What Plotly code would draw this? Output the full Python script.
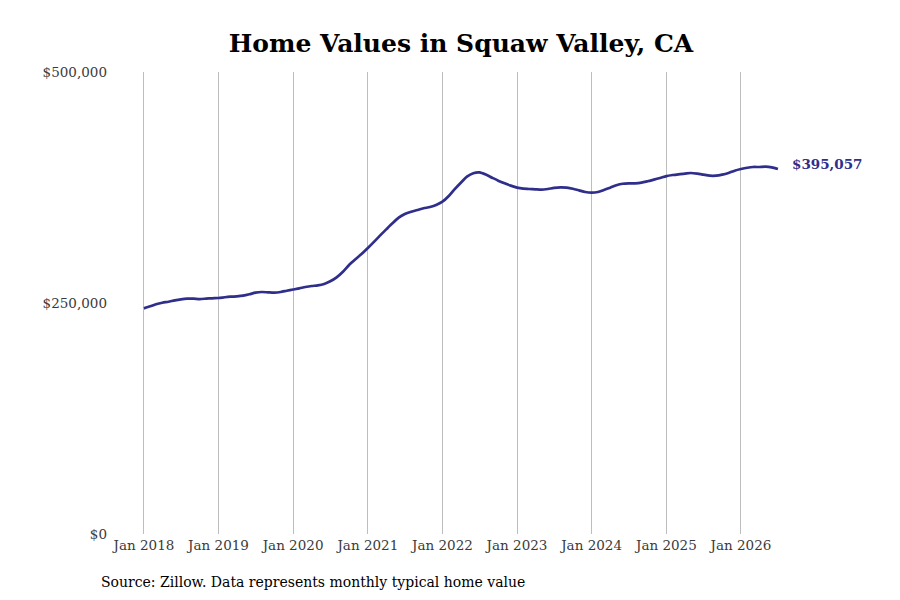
import pandas as pd
import plotly.graph_objects as go

# monthly typical home value, Jan 2018 - Jul 2026
months = pd.date_range("2018-01-01", "2026-07-01", freq="MS")

values_2018 = [244200, 246400, 248600, 250300, 251400, 252900,
               254000, 254700, 254700, 254300, 254700, 255100]
values_2019 = [255400, 256200, 256800, 257200, 257900, 259400,
               261200, 261900, 261500, 261200, 261900, 263300]
values_2020 = [264600, 265900, 267300, 268400, 269100, 270600,
               273500, 277800, 283900, 291100, 297300, 303000]
values_2021 = [309500, 316400, 322900, 329700, 336200, 342400,
               346300, 348800, 350700, 352500, 353900, 356000]
values_2022 = [359600, 365800, 373000, 380200, 386700, 390400,
               391300, 389000, 385600, 382400, 379500, 377000]
values_2023 = [374800, 373700, 373400, 373000, 372600, 373400,
               374500, 375200, 374800, 373700, 371900, 370100]
values_2024 = [369400, 370100, 372300, 374800, 377400, 379100,
               379500, 379500, 380200, 381700, 383500, 385300]
values_2025 = [387300, 388500, 389300, 390000, 390700, 390000,
               388900, 387800, 387800, 388900, 390700, 393200]
values_2026 = [395000, 396400, 397200, 397200, 397600, 396800, 395057]

values = (values_2018 + values_2019 + values_2020 + values_2021 + values_2022
          + values_2023 + values_2024 + values_2025 + values_2026)

tick_dates = pd.date_range("2018-01-01", "2026-01-01", freq="YS")
tick_labels = [d.strftime("Jan %Y") for d in tick_dates]

y_ticks = [0, 250000, 500000]
y_labels = ["$0", "$250,000", "$500,000"]

line_color = "#2f2e8b"
font_name = "DejaVu Serif"

# the page has an 8px body margin, so the figure is drawn 8px smaller
W, H = 892, 592
L, R, T, B = 102, 110, 64, 66
plot_w = W - L - R
plot_h = H - T - B

fig = go.Figure()
fig.add_trace(go.Scatter(
    x=months, y=values,
    mode="lines",
    line=dict(color=line_color, width=2.7, shape="spline", smoothing=0.7),
    hoverinfo="x+y",
))

fig.add_annotation(
    x=months[-1], y=values[-1],
    text="<b>$%s</b>" % format(values[-1], ","),
    showarrow=False, xanchor="left", xshift=12, yshift=5,
    font=dict(family=font_name, size=13.5, color=line_color),
)

fig.add_annotation(
    x=(91 - L) / plot_w, y=-48 / plot_h, xref="paper", yref="paper",
    text="Source: Zillow. Data represents monthly typical home value",
    showarrow=False, xanchor="left", yanchor="middle",
    font=dict(family=font_name, size=14, color="#000000"),
)

fig.update_layout(
    width=W, height=H,
    margin=dict(l=L, r=R, t=T, b=B),
    paper_bgcolor="white", plot_bgcolor="white",
    showlegend=False,
    font=dict(family=font_name, size=13.5, color="#3a3a3a"),
    title=dict(
        text="<b>Home Values in Squaw Valley, CA</b>",
        x=453 / W, xanchor="center", y=1 - 35 / H, yanchor="middle",
        font=dict(family=font_name, size=25, color="#000000"),
    ),
    xaxis=dict(
        range=["2017-07-19", "2026-08-29"],
        tickvals=tick_dates, ticktext=tick_labels,
        showgrid=True, gridcolor="#bdbdbd", gridwidth=1,
        zeroline=False, showline=False, ticks="",
        ticklabelstandoff=1,
        tickfont=dict(family=font_name, size=13.5, color="#3a3a3a"),
    ),
    yaxis=dict(
        range=[0, 500000],
        tickvals=y_ticks, ticktext=y_labels,
        showgrid=False, zeroline=False, showline=False, ticks="",
        ticklabelstandoff=2,
        tickfont=dict(family=font_name, size=13.5, color="#3a3a3a"),
    ),
)

fig.write_html("out.html")
